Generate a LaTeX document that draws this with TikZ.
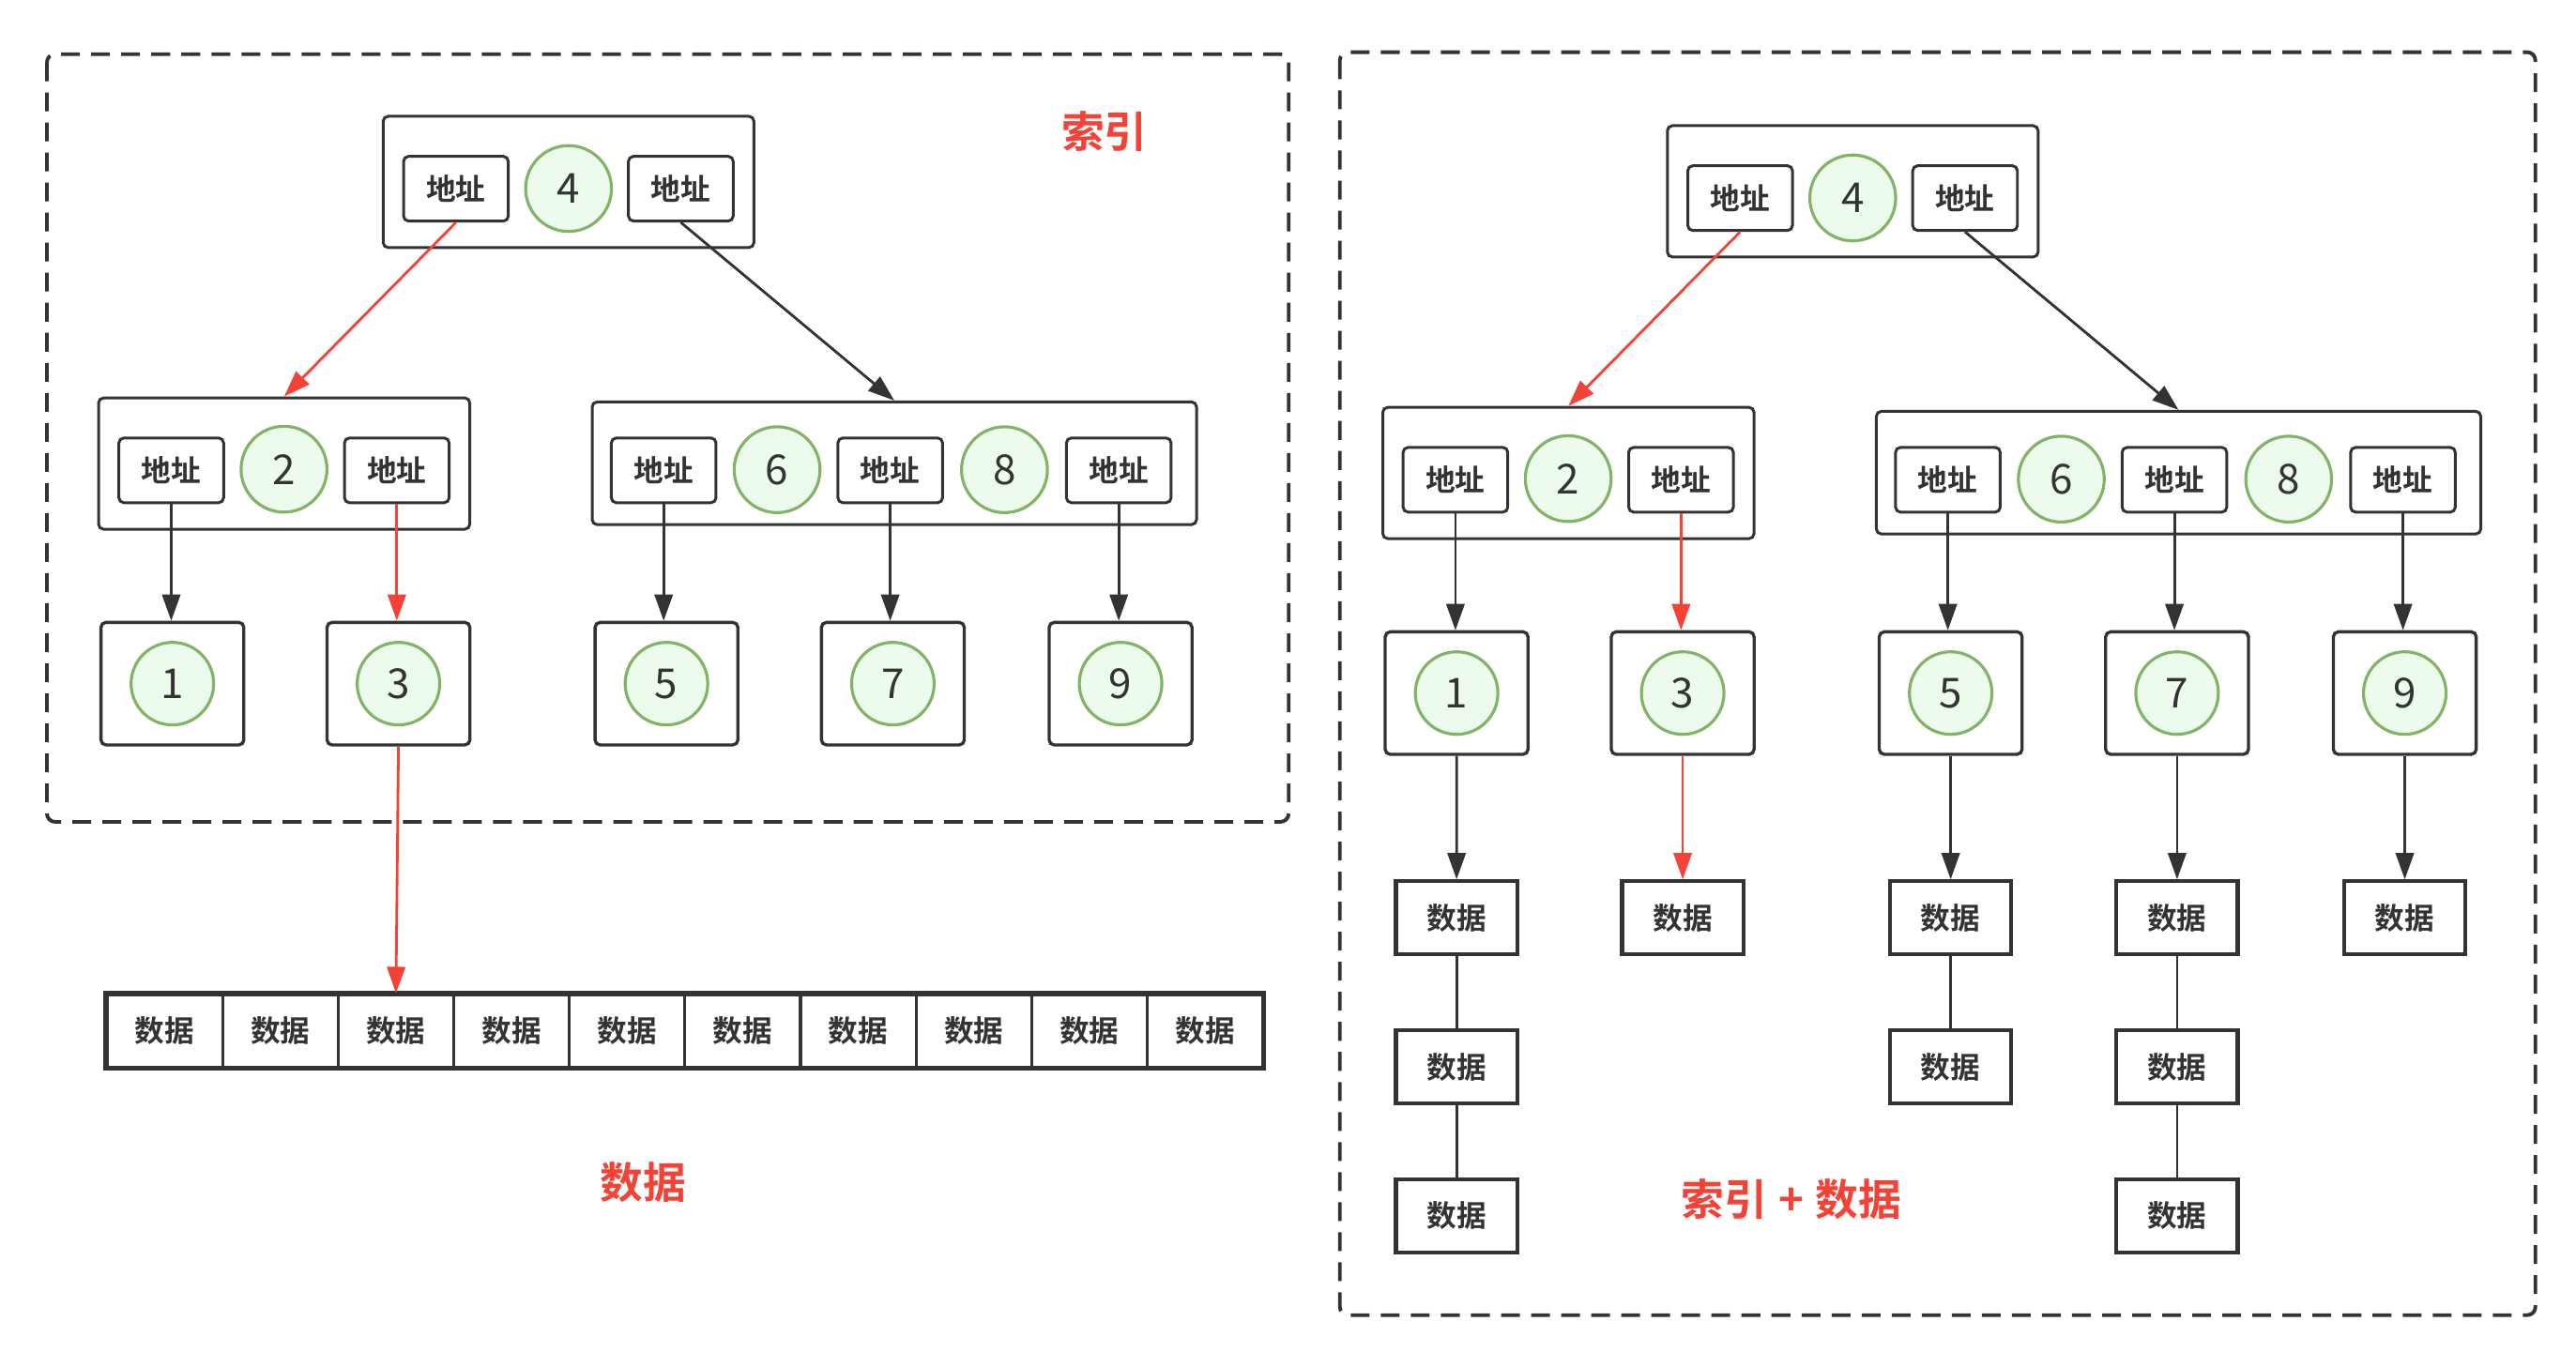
\documentclass[tikz,border=0pt]{standalone}
\usepackage{fontspec}
\setmainfont{Noto Sans CJK SC}[BoldFont={* Bold}]
\usetikzlibrary{arrows.meta}
\definecolor{dark}{HTML}{333333}
\definecolor{gstroke}{HTML}{82B366}
\definecolor{gfill}{HTML}{EDFBED}
\definecolor{myred}{HTML}{F44336}
\tikzset{
  obox/.style={draw=dark, line width=1.7pt, rounded corners=3pt, inner sep=0pt},
  addr/.style={draw=dark, line width=1.7pt, rounded corners=3pt, minimum width=63.4pt, minimum height=39.2pt, inner sep=0pt, text=dark, font=\bfseries\fontsize{18}{21}\selectfont},
  num/.style={circle, draw=gstroke, fill=gfill, line width=1.8pt, minimum size=52pt, inner sep=0pt, text=dark, font=\fontsize{25}{28}\selectfont},
  leafbox/.style={draw=dark, line width=1.9pt, rounded corners=3pt, minimum width=86.5pt, minimum height=74.2pt, inner sep=0pt},
  databox/.style={draw=dark, line width=2.4pt, minimum width=73.5pt, minimum height=44.3pt, inner sep=0pt, text=dark, font=\bfseries\fontsize{18}{21}\selectfont},
  cellbox/.style={draw=dark, line width=1.8pt, minimum width=69.99pt, minimum height=44pt, inner sep=0pt, text=dark, font=\bfseries\fontsize{18}{21}\selectfont},
  arr/.style={draw=dark, line width=1.6pt, -{Triangle[length=16pt,width=11pt]}},
  redarr/.style={draw=myred, line width=1.6pt, -{Triangle[length=16pt,width=11pt]}},
  plainline/.style={draw=dark, line width=1.6pt},
  group/.style={draw=dark, line width=2.2pt, dash pattern=on 11.4pt off 6.8pt, rounded corners=5pt},
  title/.style={text=myred, font=\bfseries\fontsize{26}{30}\selectfont}
}
\newcommand\mytree[3]{%
\begin{scope}[shift={(#2,#3)}]
  \node[obox, minimum width=224.5pt, minimum height=79.5pt] (#1root) at (344.3,110.2) {};
  \node[addr] (#1ra) at (276.1,114.3) {地址};
  \node[num] (#1n4) at (344.3,114.2) {4};
  \node[addr] (#1rb) at (412.3,114.3) {地址};
  \node[obox, minimum width=224.8pt, minimum height=79.5pt] (#1La) at (172.1,280.8) {};
  \node[addr] (#1aa) at (103.7,284.9) {地址};
  \node[num] (#1n2) at (172,284.2) {2};
  \node[addr] (#1ab) at (240.3,284.9) {地址};
  \node[obox, minimum width=366pt, minimum height=74.3pt] (#1Lb) at (541.6,280.6) {};
  \node[addr] (#1ba) at (401.9,284.9) {地址};
  \node[num] (#1n6) at (470.6,284.5) {6};
  \node[addr] (#1bb) at (539.1,284.9) {地址};
  \node[num] (#1n8) at (608.3,284.5) {8};
  \node[addr] (#1bc) at (677.5,284.9) {地址};
  \node[leafbox] (#1l1) at (104.4,414.1) {};
  \node[num, minimum size=50pt] at (#1l1) {1};
  \node[leafbox] (#1l3) at (241.3,414.1) {};
  \node[num, minimum size=50pt] at (#1l3) {3};
  \node[leafbox] (#1l5) at (403.6,414.1) {};
  \node[num, minimum size=50pt] at (#1l5) {5};
  \node[leafbox] (#1l7) at (540.7,414.1) {};
  \node[num, minimum size=50pt] at (#1l7) {7};
  \node[leafbox] (#1l9) at (678.6,414.1) {};
  \node[num, minimum size=50pt] at (#1l9) {9};
  \draw[redarr] (#1ra.south) -- (#1La.north);
  \draw[arr] (#1rb.south) -- (#1Lb.north);
  \draw[arr] (#1aa.south) -- (#1aa.south |- #1l1.north);
  \draw[redarr] (#1ab.south) -- (#1ab.south |- #1l3.north);
  \draw[arr] (#1ba.south) -- (#1ba.south |- #1l5.north);
  \draw[arr] (#1bb.south) -- (#1bb.south |- #1l7.north);
  \draw[arr] (#1bc.south) -- (#1bc.south |- #1l9.north);
\end{scope}}
\begin{document}
\begin{tikzpicture}[x=1pt, y=-1pt]
\useasboundingbox (0,0) rectangle (1560,818.4);
\draw[group] (28.4,32.8) rectangle (780.4,497.8);
\draw[group] (811.4,31.6) rectangle (1535.4,796.6);
\node[title] (t1) at (668.8,79.9) {索引};
\node[title] (t2) at (389.7,716.4) {数据};
\node[title] (t3) at (1084.7,726.6) {索引\hspace{7pt}+\hspace{7pt}数据};
\mytree{L}{0}{0}
\mytree{R}{777.7}{5.7}
% data strip
\foreach \i in {1,...,10} {
  \node[cellbox] (c\i) at ({64.8+(\i-0.5)*69.99},624.5) {数据};
}
\draw[draw=dark, line width=2.6pt] (c1.north west) rectangle (c10.south east);
\draw[redarr] (Ll3.south) -- (c3.north);
% right data boxes
\node[databox] (d1a) at (882.1,556) {数据};
\node[databox] (d1b) at (882.1,646.2) {数据};
\node[databox] (d1c) at (882.1,736.5) {数据};
\node[databox] (d3a) at (1019,556) {数据};
\node[databox] (d5a) at (1181.3,556) {数据};
\node[databox] (d5b) at (1181.3,646.2) {数据};
\node[databox] (d7a) at (1318.4,556) {数据};
\node[databox] (d7b) at (1318.4,646.2) {数据};
\node[databox] (d7c) at (1318.4,736.5) {数据};
\node[databox] (d9a) at (1456.3,556) {数据};
\draw[arr] (Rl1.south) -- (d1a.north);
\draw[redarr] (Rl3.south) -- (d3a.north);
\draw[arr] (Rl5.south) -- (d5a.north);
\draw[arr] (Rl7.south) -- (d7a.north);
\draw[arr] (Rl9.south) -- (d9a.north);
\draw[plainline] (d1a.south) -- (d1b.north);
\draw[plainline] (d1b.south) -- (d1c.north);
\draw[plainline] (d5a.south) -- (d5b.north);
\draw[plainline] (d7a.south) -- (d7b.north);
\draw[plainline] (d7b.south) -- (d7c.north);
\end{tikzpicture}
\end{document}
